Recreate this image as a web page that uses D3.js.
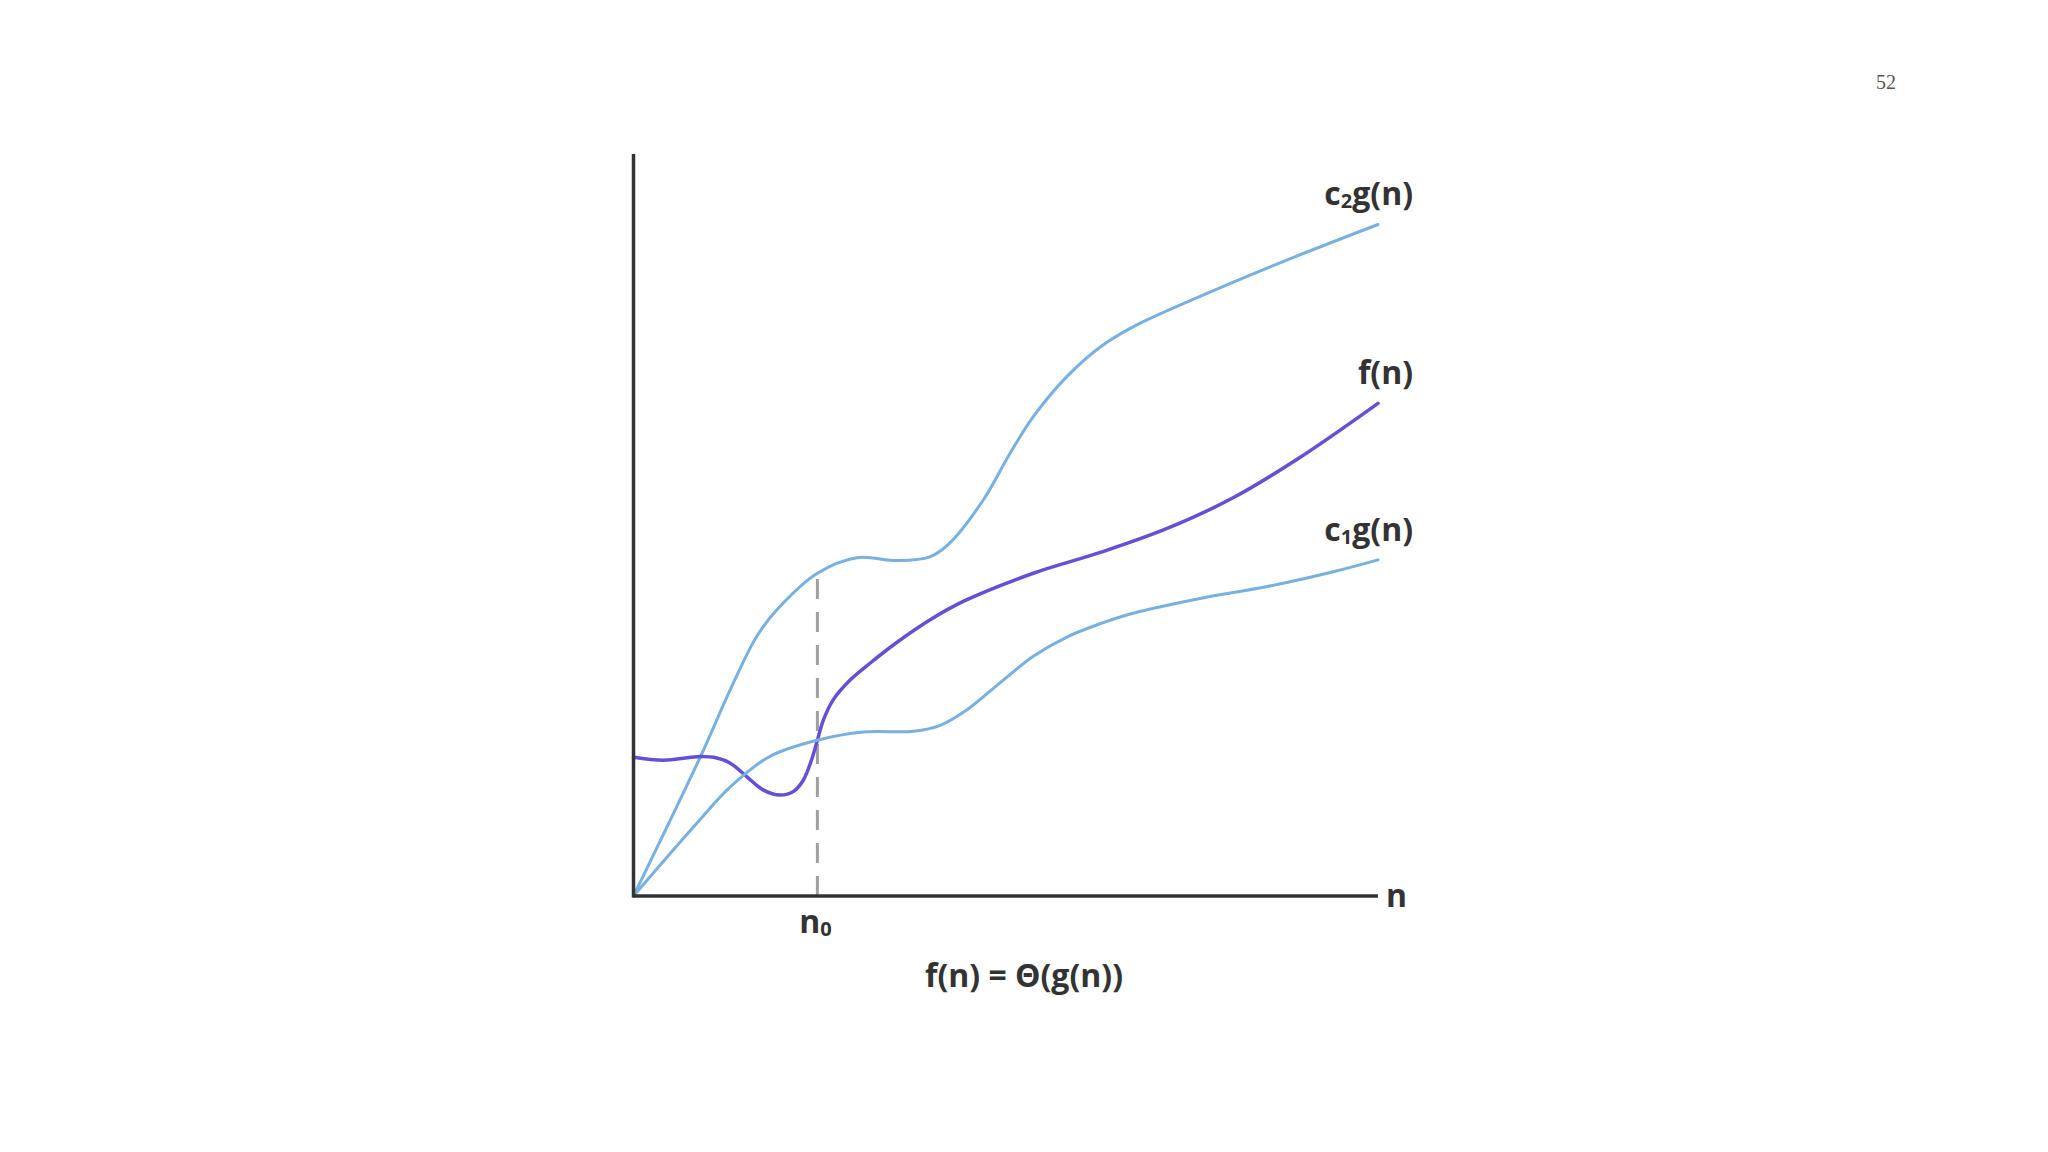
<!DOCTYPE html>
<html>
<head>
<meta charset="utf-8">
<script src="https://cdn.jsdelivr.net/npm/d3@7"></script>
<style>
  body { margin: 0; background: #fff; }
  .lbl { font-family: "Open Sans", sans-serif; font-weight: 700; fill: #333; }
  .page { font-family: "Liberation Serif", "DejaVu Serif", serif; fill: #555; }
</style>
</head>
<body>
<div class="chart"></div>
<script>
// values, x and y both on a 0-100 scale
var c2Points = [[0,0],[9,18.8],[13,27.8],[16.5,34.9],[19.2,38.5],[24.7,43.5],[30,45.6],
  [35.4,45.2],[39.8,45.7],[42.5,47.6],[47,53.4],[50.6,59.7],[53.7,64.6],[58.2,70],[62.7,74],
  [67.1,76.7],[74.7,80.2],[87,85.4],[100,90.5]];

var fPoints = [[0,18.7],[4,18.3],[9,18.8],[11.2,18.6],[13,17.9],[15.2,16.1],[17.4,14.3],
  [19.7,13.6],[21.5,14.1],[22.8,15.6],[23.9,18.3],[24.7,21],[25.5,23.7],[26.8,26.4],[29.1,29.1],
  [31.8,31.4],[35.4,34.2],[39.8,37.2],[44.5,39.8],[53.7,43.5],[62.7,46.3],[71.6,49.5],
  [80.6,53.7],[89.5,59.1],[100,66.4]];

var c1Points = [[0,0],[8.5,9.8],[13,14.7],[18.3,18.8],[24.7,21],[30.9,22.1],[37.6,22.2],
  [41.2,23],[44.8,25.1],[49.2,28.7],[53.7,32.3],[58.2,34.9],[62.7,36.7],[67.1,38.1],[76.1,40.1],
  [85.1,41.7],[94,43.7],[100,45.3]];

var n0 = 24.7;
var seriesNames = [["c", "2", "g(n)"], ["f(n)"], ["c", "1", "g(n)"]];
var pageNumber = "52";

var svgWidth = 2048;
var svgHeight = 1152;

var svg = d3.select(".chart")
  .append("svg")
  .attr("width", svgWidth)
  .attr("height", svgHeight);

var xScale = d3.scaleLinear().domain([0, 100]).range([633.5, 1378]);
var yScale = d3.scaleLinear().domain([0, 100]).range([896, 154]);

var line = d3.line()
  .x(d => xScale(d[0]))
  .y(d => yScale(d[1]))
  .curve(d3.curveCatmullRom.alpha(0.5));

// dashed guide at n0, up to c2g(n)
svg.append("line")
  .attr("x1", xScale(n0)).attr("x2", xScale(n0))
  .attr("y1", yScale(0)).attr("y2", yScale(43.5))
  .attr("stroke", "#a0a0a0")
  .attr("stroke-width", 3)
  .attr("stroke-dasharray", "20,13");

var series = [
  { pts: c2Points, color: "#78b0e0", w: 3 },
  { pts: fPoints, color: "#654fd6", w: 3.5 },
  { pts: c1Points, color: "#78b0e0", w: 3 }
];

series.forEach(function (s, i) {
  svg.append("path")
    .datum(s.pts)
    .attr("d", line)
    .attr("fill", "none")
    .attr("stroke", s.color)
    .attr("stroke-width", s.w)
    .attr("stroke-linecap", "round");

  // name above the end of each curve
  var last = s.pts[s.pts.length - 1];
  var t = svg.append("text")
    .attr("class", "lbl")
    .attr("x", xScale(last[0]) + 35)
    .attr("y", yScale(last[1]) - 19)
    .attr("text-anchor", "end")
    .attr("font-size", 32);
  var parts = seriesNames[i];
  if (parts.length === 3) {
    t.append("tspan").text(parts[0]);
    t.append("tspan").attr("font-size", 20).attr("dy", 3).text(parts[1]);
    t.append("tspan").attr("dy", -3).text(parts[2]);
  } else {
    t.text(parts[0]);
  }
});

// axes (no ticks)
svg.append("line")
  .attr("x1", xScale(0)).attr("x2", xScale(0))
  .attr("y1", yScale(0) + 1.5).attr("y2", yScale(100))
  .attr("stroke", "#333").attr("stroke-width", 3.5);

svg.append("line")
  .attr("x1", xScale(0)).attr("x2", xScale(100))
  .attr("y1", yScale(0)).attr("y2", yScale(0))
  .attr("stroke", "#333").attr("stroke-width", 3.5);

svg.append("text")
  .attr("class", "lbl")
  .attr("x", xScale(100) + 8)
  .attr("y", yScale(0) + 11)
  .attr("font-size", 32)
  .text("n");

var n0Label = svg.append("text")
  .attr("class", "lbl")
  .attr("x", xScale(n0) - 2)
  .attr("y", yScale(0) + 37)
  .attr("text-anchor", "middle")
  .attr("font-size", 32);
n0Label.append("tspan").text("n");
n0Label.append("tspan").attr("font-size", 20).attr("dy", 3).text("0");

svg.append("text")
  .attr("class", "lbl")
  .attr("x", 1024)
  .attr("y", 987)
  .attr("text-anchor", "middle")
  .attr("font-size", 32)
  .text("f(n) = Θ(g(n))");

svg.append("text")
  .attr("class", "page")
  .attr("x", 1886)
  .attr("y", 89)
  .attr("text-anchor", "middle")
  .attr("font-size", 20)
  .text(pageNumber);
</script>
</body>
</html>
